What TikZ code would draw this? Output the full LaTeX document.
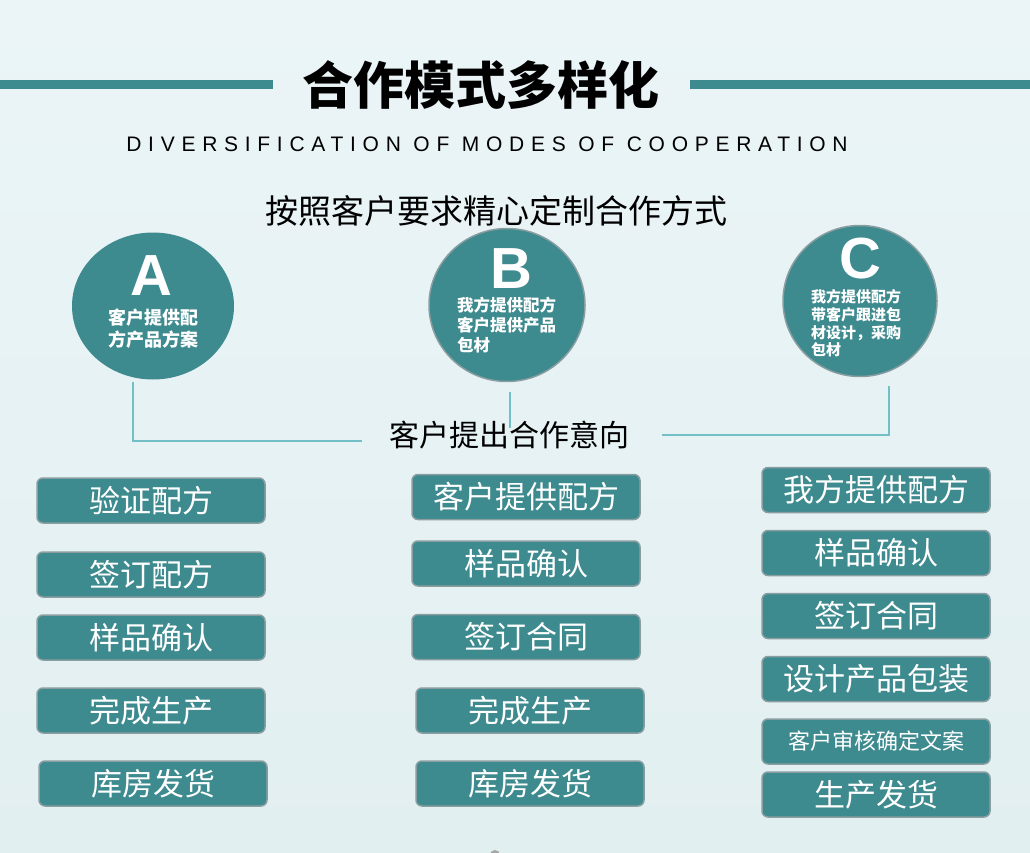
\documentclass[tikz,border=0pt]{standalone}
\usepackage{fontspec}
\setmainfont{Liberation Sans}
\newfontfamily\cjk{Noto Sans CJK SC}
\usetikzlibrary{shapes.geometric}
\definecolor{tealfill}{HTML}{3D8A8F}
\definecolor{boxborder}{HTML}{8A9EA1}
\definecolor{linkcol}{HTML}{72C0C6}
\definecolor{bgtop}{HTML}{EBF5F7}
\definecolor{bgbot}{HTML}{E2EFF1}
\tikzset{
  stepbox/.style={draw=boxborder, line width=1.5pt, fill=tealfill, rounded corners=6pt,
    minimum width=228pt, minimum height=45pt, inner sep=0pt, text=white,
    font=\cjk\fontsize{31}{31}\selectfont},
  smallstep/.style={stepbox, font=\cjk\fontsize{22}{22}\selectfont},
  bubble/.style={ellipse, fill=tealfill, inner sep=0pt},
  bubbleb/.style={bubble, draw=boxborder, line width=1.5pt},
  letter/.style={text=white, inner sep=0pt, anchor=base, font=\bfseries\fontsize{58}{58}\selectfont},
  link/.style={draw=linkcol, line width=2.5pt},
  titlebar/.style={draw=tealfill, line width=9pt},
}
\begin{document}
\begin{tikzpicture}[x=1pt,y=-1pt]
\useasboundingbox (0,0) rectangle (1030,853);
\shade[top color=bgtop, bottom color=bgbot] (0,0) rectangle (1030,853);

% title
\coordinate (tl1) at (0,84.5);
\coordinate (tl2) at (273,84.5);
\coordinate (tr1) at (690,84.5);
\coordinate (tr2) at (1030,84.5);
\draw[titlebar] (tl1) -- (tl2);
\draw[titlebar] (tr1) -- (tr2);
\node[inner sep=0pt, font=\cjk\bfseries\fontsize{51}{51}\selectfont] (title) at (481,85) {合作模式多样化};
\node[inner sep=0pt, font=\fontsize{21}{21}\selectfont\addfontfeature{LetterSpace=32}] (subtitle) at (487,144.5) {DIVERSIFICATION OF MODES OF COOPERATION};
\node[inner sep=0pt, font=\cjk\fontsize{33}{33}\selectfont] (heading) at (496,211) {按照客户要求精心定制合作方式};

% circles
\node[bubble, minimum width=162pt, minimum height=147pt] (circA) at (153,306) {};
\node[bubbleb, minimum width=156pt, minimum height=153pt] (circB) at (507,305) {};
\node[bubbleb, minimum width=154pt, minimum height=151pt] (circC) at (860,301) {};
\node[letter] (la) at (151,295) {A};
\node[letter] (lb) at (511,288) {B};
\node[letter] (lc) at (860,278) {C};
\node[text=white, inner sep=0pt, align=center, font=\cjk\bfseries\fontsize{18}{22}\selectfont] (ta) at (153,329) {客户提供配\\方产品方案};
\node[text=white, inner sep=0pt, align=left, anchor=west, font=\cjk\bfseries\fontsize{16.5}{20}\selectfont] (tb) at (457,325) {我方提供配方\\客户提供产品\\包材};
\node[text=white, inner sep=0pt, align=left, anchor=west, font=\cjk\bfseries\fontsize{15}{17.7}\selectfont] (tc) at (811,323.5) {我方提供配方\\带客户跟进包\\材设计，采购\\包材};

% intent
\coordinate (a1) at (133,382);
\coordinate (a2) at (362,441);
\coordinate (b1) at (510,392);
\coordinate (b2) at (510,428);
\coordinate (c1) at (889,386);
\coordinate (c2) at (662,435);
\draw[link] (a1) |- (a2);
\draw[link] (b1) -- (b2);
\draw[link] (c1) |- (c2);
\node[inner sep=0pt, font=\cjk\fontsize{30}{30}\selectfont] (intent) at (509,435) {客户提出合作意向};

% column A
\node[stepbox] (a-1) at (151,500.5) {验证配方};
\node[stepbox] (a-2) at (151,574.5) {签订配方};
\node[stepbox] (a-3) at (151,637.5) {样品确认};
\node[stepbox] (a-4) at (151,710.5) {完成生产};
\node[stepbox] (a-5) at (153,783.5) {库房发货};

% column B
\node[stepbox] (b-1) at (526,497) {客户提供配方};
\node[stepbox] (b-2) at (526,563.5) {样品确认};
\node[stepbox] (b-3) at (526,637) {签订合同};
\node[stepbox] (b-4) at (530,710.5) {完成生产};
\node[stepbox] (b-5) at (530,783.5) {库房发货};

% column C
\node[stepbox] (c-1) at (876,490) {我方提供配方};
\node[stepbox] (c-2) at (876,553) {样品确认};
\node[stepbox] (c-3) at (876,616) {签订合同};
\node[stepbox] (c-4) at (876,679) {设计产品包装};
\node[smallstep] (c-5) at (876,741.5) {客户审核确定文案};
\node[stepbox] (c-6) at (876,794.5) {生产发货};

\fill[gray!70] (495,855) circle (5);
\end{tikzpicture}
\end{document}
